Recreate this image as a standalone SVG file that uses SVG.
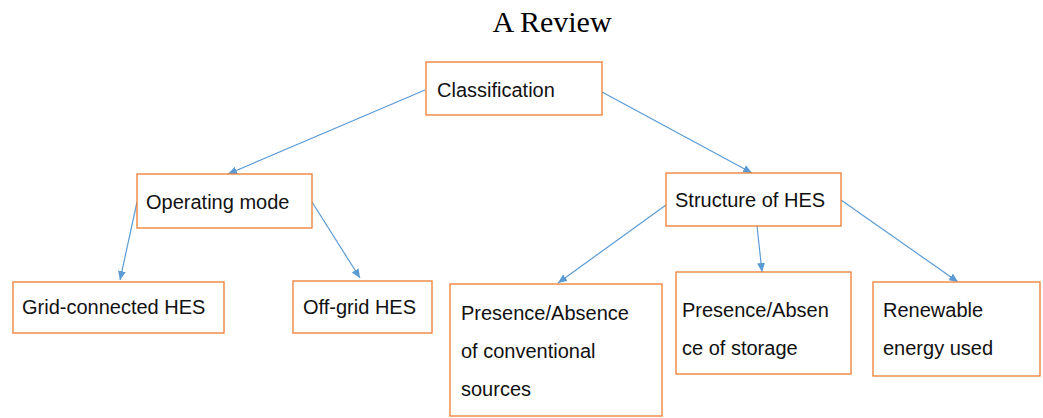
<svg xmlns="http://www.w3.org/2000/svg" width="1043" height="418" viewBox="0 0 1043 418">
  <style>
    .box { fill: #ffffff; stroke: #ed7d31; stroke-width: 1.3; }
    .lbl { font-family: "Liberation Sans", Arial, sans-serif; font-size: 20px; fill: #111111; }
    .title { font-family: "Liberation Serif", "Times New Roman", serif; font-size: 30px; fill: #000000; }
    .edge { stroke: #5b9bd5; stroke-width: 1.2; fill: none; marker-end: url(#arrow); }
  </style>
  <defs>
    <marker id="arrow" markerUnits="userSpaceOnUse" markerWidth="10" markerHeight="8" refX="9" refY="4" orient="auto">
      <path d="M0,0 L9,4 L0,8 Z" fill="#5b9bd5"/>
    </marker>
  </defs>

  <rect width="1043" height="418" fill="#ffffff"/>
  <text class="title" x="552" y="32" text-anchor="middle">A Review</text>

  <!-- connectors -->
  <g id="connectors">
    <line class="edge" x1="425" y1="90" x2="228" y2="174"/>
    <line class="edge" x1="602" y1="92" x2="752" y2="173"/>
    <line class="edge" x1="137" y1="202" x2="120" y2="280"/>
    <line class="edge" x1="312" y1="202" x2="360" y2="278"/>
    <line class="edge" x1="666" y1="205" x2="558" y2="283"/>
    <line class="edge" x1="757" y1="226" x2="762" y2="272"/>
    <line class="edge" x1="841" y1="200" x2="958" y2="282"/>
  </g>

  <g id="classification">
    <rect class="box" x="426" y="62" width="176" height="53"/>
    <text class="lbl" x="437" y="97">Classification</text>
  </g>

  <g id="operating-mode">
    <rect class="box" x="137" y="174" width="175" height="54"/>
    <text class="lbl" x="146" y="209">Operating mode</text>
  </g>

  <g id="structure-of-hes">
    <rect class="box" x="666" y="173" width="175" height="53"/>
    <text class="lbl" x="675" y="207">Structure of HES</text>
  </g>

  <g id="grid-connected">
    <rect class="box" x="13" y="282" width="211" height="51"/>
    <text class="lbl" x="22" y="314">Grid-connected HES</text>
  </g>

  <g id="off-grid">
    <rect class="box" x="293" y="281" width="139" height="52"/>
    <text class="lbl" x="303" y="314">Off-grid HES</text>
  </g>

  <g id="conventional-sources">
    <rect class="box" x="450" y="284" width="212" height="132"/>
    <text class="lbl" x="461" y="320">Presence/Absence</text>
    <text class="lbl" x="461" y="358">of conventional</text>
    <text class="lbl" x="461" y="396">sources</text>
  </g>

  <g id="storage">
    <rect class="box" x="676" y="272" width="175" height="102"/>
    <text class="lbl" x="682" y="317">Presence/Absen</text>
    <text class="lbl" x="682" y="355">ce of storage</text>
  </g>

  <g id="renewable">
    <rect class="box" x="873" y="282" width="167" height="94"/>
    <text class="lbl" x="883" y="317">Renewable</text>
    <text class="lbl" x="883" y="355">energy used</text>
  </g>
</svg>
